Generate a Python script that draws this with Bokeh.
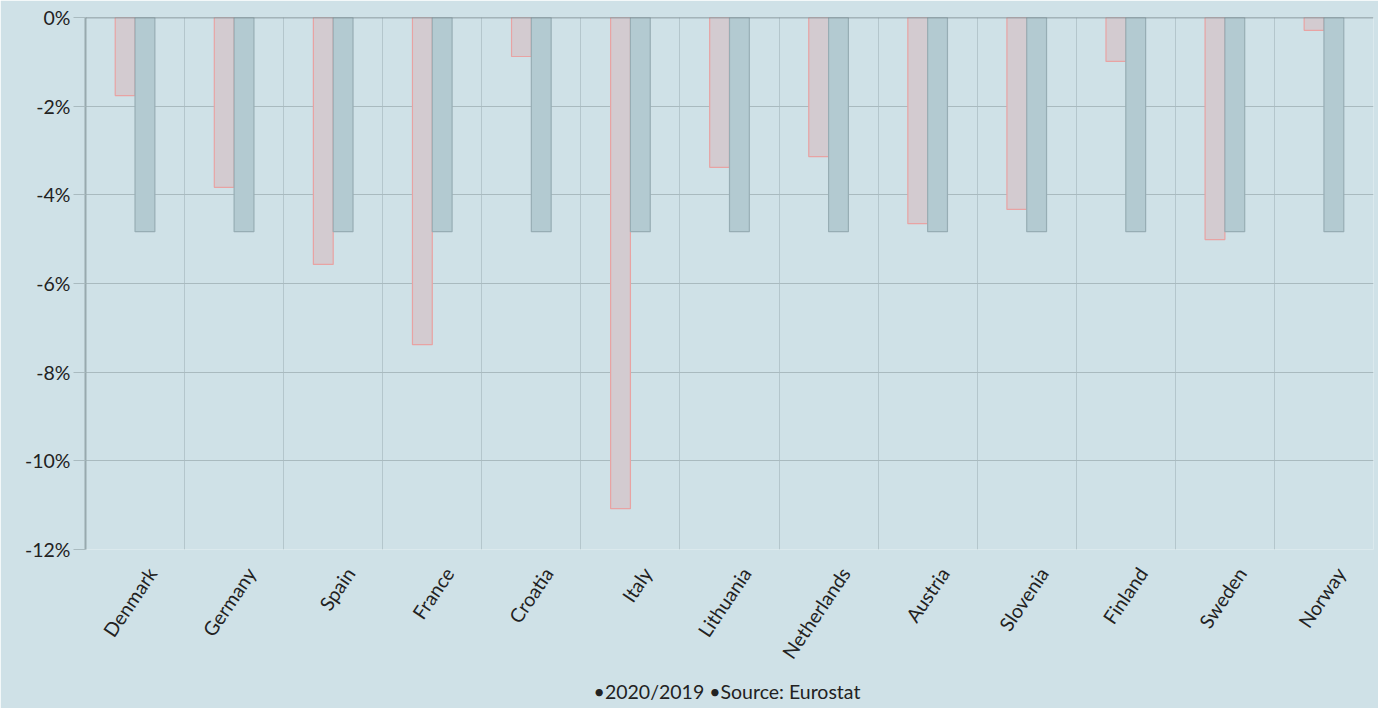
import math
from bokeh.plotting import figure
from bokeh.models import (FixedTicker, PrintfTickFormatter, Span, Title, ColumnDataSource)
from bokeh.transform import dodge
from bokeh.embed import file_html
from bokeh.resources import INLINE

countries = ["Denmark", "Germany", "Spain", "France", "Croatia", "Italy", "Lithuania",
             "Netherlands", "Austria", "Slovenia", "Finland", "Sweden", "Norway"]
change_2020_2019 = [-1.76, -3.83, -5.57, -7.38, -0.88, -11.08, -3.38,
                    -3.14, -4.65, -4.33, -0.99, -5.01, -0.29]
eu_average = [-4.83] * 13
y_ticks = [0, -2, -4, -6, -8, -10, -12]
legend_text = "\u20222020/2019  \u2022Source: Eurostat"

pos = [i + 0.5 for i in range(len(countries))]
label_pos = [x + 0.17 for x in pos]
src = ColumnDataSource(dict(x=pos, a=change_2020_2019, b=eu_average))

BG = "#cfe1e7"
p = figure(width=1378, height=708, x_range=(0, len(countries)), y_range=(-12, 0),
           output_backend="svg", toolbar_location=None,
           min_border_left=85, min_border_right=5, min_border_top=17, min_border_bottom=159)
p.background_fill_color = BG
p.border_fill_color = BG
p.outline_line_color = None

p.vbar(x=dodge("x", -0.1), top=0, bottom="a", width=0.2, source=src,
       fill_color="#d3cbd0", line_color="#e8a3a3", line_width=1.2)
p.vbar(x=dodge("x", 0.1), top=0, bottom="b", width=0.2, source=src,
       fill_color="#b3cad1", line_color="#97adb4", line_width=1.2)

# x axis
p.xaxis.ticker = FixedTicker(ticks=label_pos)
p.xaxis.major_label_overrides = {p_: c for p_, c in zip(label_pos, countries)}
p.xaxis.major_label_orientation = math.radians(56)
p.xaxis.major_label_text_font = "Lato"
p.xaxis.major_label_text_font_size = "19.5px"
p.xaxis.major_label_text_color = "#222222"
p.xaxis.major_tick_line_color = None
p.xaxis.minor_tick_line_color = None
p.xaxis.axis_line_color = None
p.xaxis.major_label_standoff = 14

# y axis
p.yaxis.ticker = FixedTicker(ticks=y_ticks)
p.yaxis.formatter = PrintfTickFormatter(format="%d%%")
p.yaxis.major_label_text_font = "Lato"
p.yaxis.major_label_text_font_size = "19.5px"
p.yaxis.major_label_text_color = "#222222"
p.yaxis.major_tick_out = 12
p.yaxis.major_tick_in = 0
p.yaxis.major_tick_line_color = "#a9babf"
p.yaxis.minor_tick_line_color = None
p.yaxis.axis_line_color = "#98a9ae"
p.yaxis.axis_line_width = 2
p.yaxis.major_label_standoff = 3

# grids
p.ygrid.ticker = FixedTicker(ticks=y_ticks)
p.ygrid.grid_line_color = "#a9babf"
p.xgrid.ticker = FixedTicker(ticks=list(range(len(countries) + 1)))
p.xgrid.grid_line_color = "#b4c6cc"

p.add_layout(Span(location=0, dimension="width", line_color="#6f8086", line_width=1.5))

p.add_layout(Title(text=legend_text, align="center",
                   text_font="Lato", text_font_size="19.5px", text_font_style="normal",
                   text_color="#222222"), "below")

open("out.html", "w").write(file_html(p, INLINE))
